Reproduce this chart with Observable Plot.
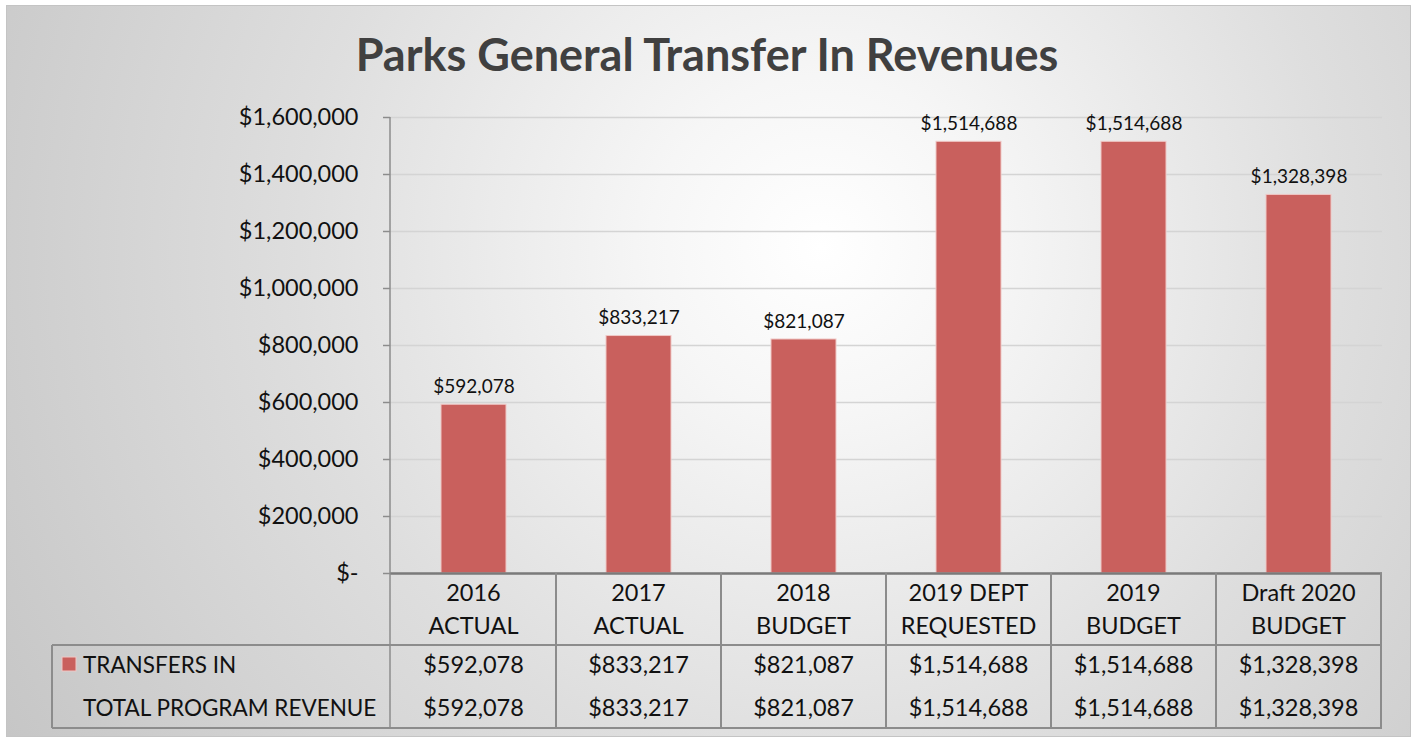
<!DOCTYPE html>
<html>
<head>
<meta charset="utf-8">
<script src="https://cdn.jsdelivr.net/npm/d3@7"></script>
<script src="https://cdn.jsdelivr.net/npm/@observablehq/plot@0.6"></script>
<style>
  html, body { margin: 0; padding: 0; background: #fff; }
  #frame { position: relative; width: 1414px; height: 741px; overflow: hidden; font-family: Lato, "Open Sans", sans-serif; }
  #bg { position: absolute; left: 6px; top: 5px; width: 1403px; height: 730px; border: 1px solid #c4c4c4;
        background: radial-gradient(circle farthest-corner at 58% 33%, #ffffff 0%, #f6f6f6 18%, #dedede 55%, #c6c6c6 100%); }
  #title { position: absolute; left: 0; width: 1414px; top: 27px; text-align: center; font-size: 45px; font-weight: 700; color: #404040; line-height: 54px; }
  #chart { position: absolute; left: 0; top: 0; }
  #chart svg { background: transparent !important; overflow: visible; }
</style>
</head>
<body>
<div id="frame">
  <div id="bg"></div>
  <div id="title">Parks General Transfer In Revenues</div>
  <div id="chart"></div>
</div>
<script>
// ---- data ----
const categories = ["2016\nACTUAL", "2017\nACTUAL", "2018\nBUDGET", "2019 DEPT\nREQUESTED", "2019\nBUDGET", "Draft 2020\nBUDGET"];
const transfersIn = [592078, 833217, 821087, 1514688, 1514688, 1328398];
const totalProgramRevenue = [592078, 833217, 821087, 1514688, 1514688, 1328398];
const rowLabels = ["TRANSFERS IN", "TOTAL PROGRAM REVENUE"];
const yTicks = [0, 200000, 400000, 600000, 800000, 1000000, 1200000, 1400000, 1600000];

const data = categories.map((c, i) => ({ category: c, value: transfersIn[i] }));
const money = v => v === 0 ? "$-" : "$" + d3.format(",")(v);

const barFill = "#c9605d";
const lineGray = "#8c8c8c";
const font = "Lato, 'Open Sans', sans-serif";
const tableFont = 23.5;

const chart = Plot.plot({
  width: 1414,
  height: 741,
  marginLeft: 390,
  marginRight: 32,
  marginTop: 117,
  marginBottom: 168,
  style: { fontFamily: font, background: "transparent", overflow: "visible" },
  x: { domain: categories, padding: 0, axis: null },
  y: { domain: [0, 1600000], ticks: yTicks, axis: null },
  marks: [
    Plot.gridY(yTicks, { stroke: "#d4d4d4", strokeOpacity: 1, strokeWidth: 1.5 }),
    Plot.axisY(yTicks, {
      label: null, tickSize: 7, tickPadding: 25, stroke: lineGray, strokeWidth: 1.5,
      tickFormat: money, fontSize: 23.5, fill: "#111"
    }),
    Plot.barY(data, {
      x: "category", y: "value", fill: barFill, fillOpacity: 1,
      stroke: "#f0c8c6", strokeWidth: 1, insetLeft: 50, insetRight: 50
    }),
    Plot.text(data, {
      x: "category", y: "value", text: d => money(d.value),
      dy: -18, fontSize: 19, fill: "#111"
    }),
    Plot.ruleY([0], { stroke: "#7a7a7a", strokeWidth: 2.5 })
  ]
});

document.getElementById("chart").appendChild(chart);

// ---- data table below the plot, aligned with the x scale ----
const xs = chart.scale("x");
const svg = d3.select(chart);
const g = svg.append("g").attr("font-family", font).attr("font-size", tableFont).attr("fill", "#111");
const left = xs.range[0], right = xs.range[1];
const yBase = 573, yHead = 645, yBottom = 728, xLegend = 52;

// y axis line (extends down through the table)
g.append("line").attr("x1", left).attr("x2", left).attr("y1", 117).attr("y2", yBottom)
  .attr("stroke", lineGray).attr("stroke-width", 1.5);

// vertical cell borders
categories.forEach(c => {
  const x1 = xs.apply(c) + xs.bandwidth;
  g.append("line").attr("x1", x1).attr("x2", x1).attr("y1", yBase).attr("y2", yBottom)
    .attr("stroke", lineGray).attr("stroke-width", 2);
});
// horizontal lines
[yHead, yBottom].forEach(yy => {
  g.append("line").attr("x1", xLegend).attr("x2", right).attr("y1", yy).attr("y2", yy)
    .attr("stroke", lineGray).attr("stroke-width", 2);
});
g.append("line").attr("x1", xLegend).attr("x2", xLegend).attr("y1", yHead).attr("y2", yBottom)
  .attr("stroke", lineGray).attr("stroke-width", 2);

// header labels
categories.forEach(c => {
  const cx = xs.apply(c) + xs.bandwidth / 2;
  c.split("\n").forEach((line, k) => {
    g.append("text").attr("x", cx).attr("y", 601 + k * 33).attr("text-anchor", "middle").text(line);
  });
});

// rows
const rows = [transfersIn, totalProgramRevenue];
const rowY = [673, 716];
rows.forEach((vals, r) => {
  g.append("text").attr("x", 83).attr("y", rowY[r]).attr("text-anchor", "start")
    .attr("font-size", 22.5).text(rowLabels[r]);
  vals.forEach((v, i) => {
    const cx = xs.apply(categories[i]) + xs.bandwidth / 2;
    g.append("text").attr("x", cx).attr("y", rowY[r]).attr("text-anchor", "middle").text(money(v));
  });
});
// legend swatch
g.append("rect").attr("x", 62).attr("y", 657).attr("width", 14).attr("height", 14)
  .attr("fill", barFill).attr("stroke", "#f0c8c6").attr("stroke-width", 1);
</script>
</body>
</html>
